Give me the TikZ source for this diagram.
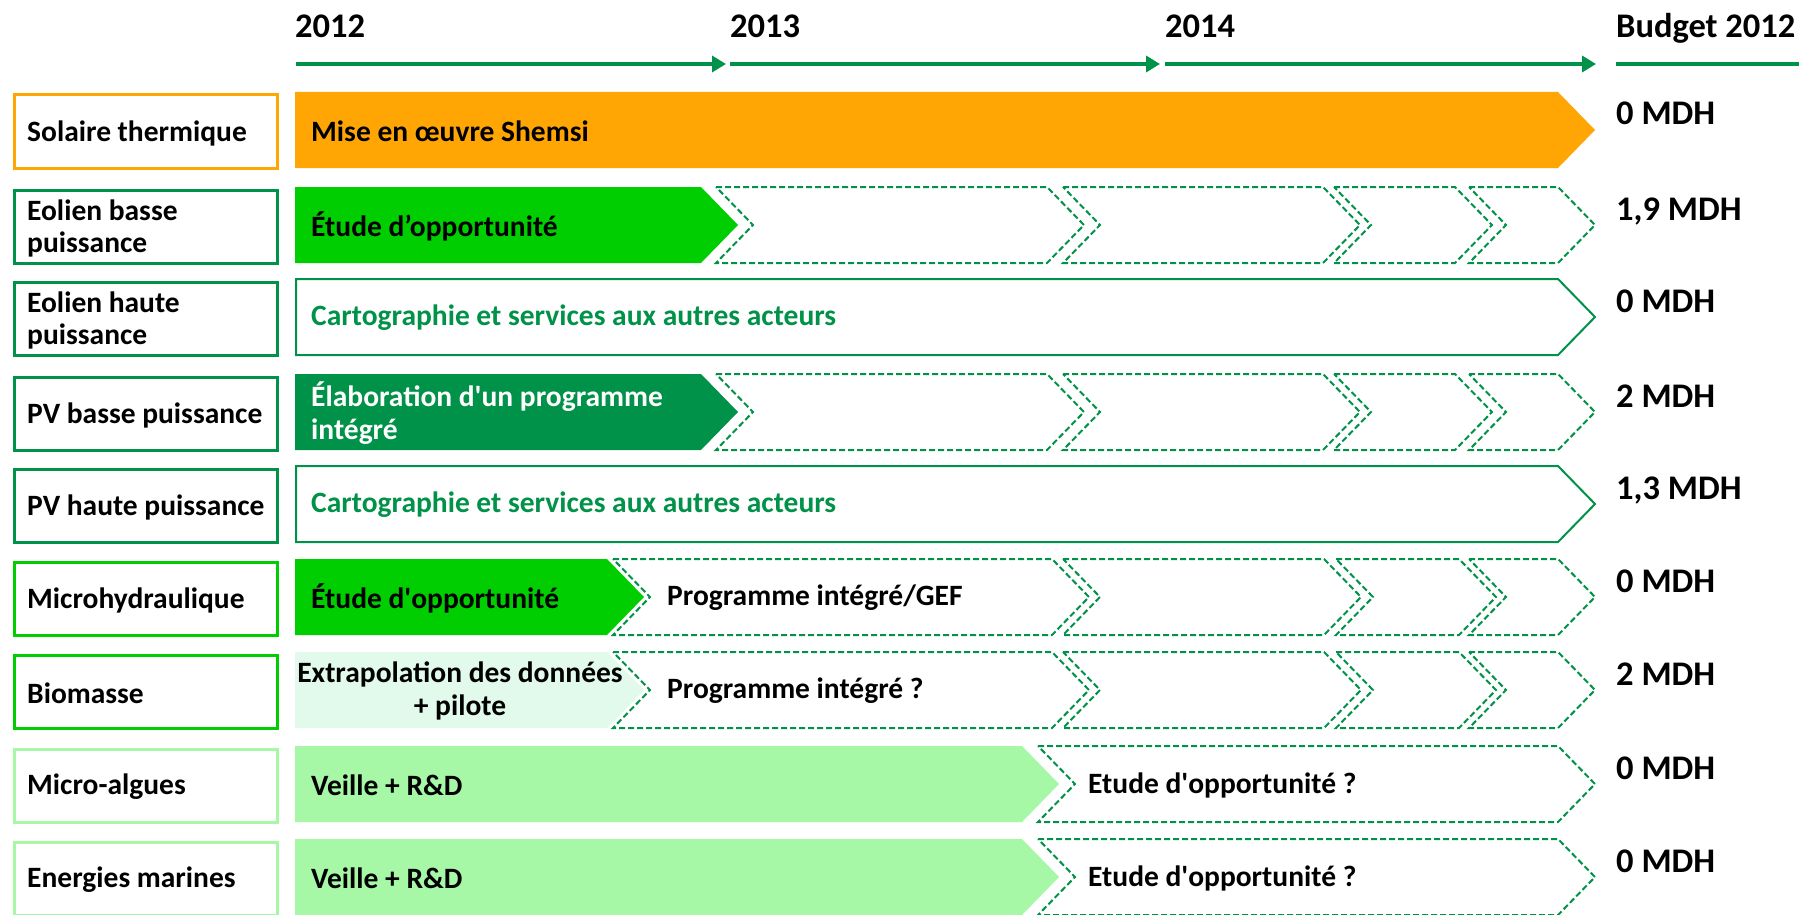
\documentclass[tikz,border=0pt]{standalone}
\usepackage{fontspec}
\setmainfont{Carlito}
\usetikzlibrary{arrows.meta}
\definecolor{dkgreen}{RGB}{0,146,72}
\definecolor{brgreen}{RGB}{0,206,0}
\definecolor{ltgreen}{RGB}{166,247,166}
\definecolor{mint}{RGB}{226,250,236}
\definecolor{orng}{RGB}{255,166,5}
\newcommand\gbar[4]{\path[#1] (#2,#4) -- (#3,#4) -- ({#3+37},{#4+38}) -- (#3,{#4+76}) -- (#2,{#4+76}) -- cycle;}
\newcommand\gnotch[4]{\path[#1] (#2,#4) -- (#3,#4) -- ({#3+37},{#4+38}) -- (#3,{#4+76}) -- (#2,{#4+76}) -- ({#2+37},{#4+38}) -- cycle;}
\tikzset{
  rowbox/.style={draw, line width=3pt, minimum width=263pt, minimum height=73pt, inner sep=0pt, anchor=north west},
  labtxt/.style={anchor=west, inner sep=0pt, font=\fontsize{29.5}{32}\selectfont\bfseries, align=flush left},
  bartxt/.style={anchor=west, inner sep=0pt, font=\fontsize{29.5}{33}\selectfont\bfseries, align=flush left},
  yeartxt/.style={anchor=base west, inner sep=0pt, font=\fontsize{34.5}{37}\selectfont\bfseries},
  tl/.style={line width=4pt, draw=dkgreen, -{Triangle[length=14pt,width=16pt]}},
  dchev/.style={draw=dkgreen, line width=2pt, dash pattern=on 6pt off 3pt, line join=miter},
  obar/.style={draw=dkgreen, line width=2pt, fill=white},
}
\begin{document}
\begin{tikzpicture}[x=1pt,y=-1pt]
\useasboundingbox (0,0) rectangle (1799,915);
\fill[white] (0,0) rectangle (1799,915);
% timeline
\node[yeartxt] (y1) at (295,38) {2012};
\node[yeartxt] (y2) at (730,38) {2013};
\node[yeartxt] (y3) at (1165,38) {2014};
\node[yeartxt] (y4) at (1616,38) {Budget 2012};
\coordinate (a0) at (296,64); \coordinate (a1) at (726,64);
\coordinate (a2) at (730,64); \coordinate (a3) at (1160,64);
\coordinate (a4) at (1165,64); \coordinate (a5) at (1596,64);
\coordinate (a6) at (1616,64); \coordinate (a7) at (1799,64);
\draw[tl] (a0) -- (a1);
\draw[tl] (a2) -- (a3);
\draw[tl] (a4) -- (a5);
\draw[line width=4pt, draw=dkgreen] (a6) -- (a7);
% row labels
\node[rowbox, draw=orng] (l1) at (13,93.5) {};
\node[rowbox, draw=dkgreen] (l2) at (13,188.5) {};
\node[rowbox, draw=dkgreen] (l3) at (13,280.5) {};
\node[rowbox, draw=dkgreen] (l4) at (13,375.5) {};
\node[rowbox, draw=dkgreen] (l5) at (13,467.5) {};
\node[rowbox, draw=brgreen] (l6) at (13,560.5) {};
\node[rowbox, draw=brgreen] (l7) at (13,653.5) {};
\node[rowbox, draw=ltgreen] (l8) at (13,747.5) {};
\node[rowbox, draw=ltgreen] (l9) at (13,840.5) {};
\node[labtxt] (t1) at (27,133) {Solaire thermique};
\node[labtxt] (t2) at (27,228) {Eolien basse\\puissance};
\node[labtxt] (t3) at (27,320) {Eolien haute\\puissance};
\node[labtxt] (t4) at (27,415) {PV basse puissance};
\node[labtxt] (t5) at (27,507) {PV haute puissance};
\node[labtxt] (t6) at (27,600) {Microhydraulique};
\node[labtxt] (t7) at (27,693) {Biomasse};
\node[labtxt] (t8) at (27,787) {Micro-algues};
\node[labtxt] (t9) at (27,880) {Energies marines};
% row 1
\gbar{fill=orng}{295}{1558}{92}
\node[bartxt] (e1) at (311,131) {Mise en œuvre Shemsi};
% row 2
\foreach \a/\b in {716/1047,1063/1323,1334/1455,1469/1558} {\gnotch{dchev}{\a}{\b}{187}}
\gbar{fill=brgreen}{295}{701}{187}
\node[bartxt] (e2) at (311,226) {Étude d’opportunité};
% row 3
\gbar{obar}{296}{1558}{279}
\node[bartxt, text=dkgreen] (e3) at (311,318) {Cartographie et services aux autres acteurs};
% row 4
\foreach \a/\b in {716/1047,1063/1323,1334/1455,1469/1558} {\gnotch{dchev}{\a}{\b}{374}}
\gbar{fill=dkgreen}{295}{701}{374}
\node[bartxt, text=white] (e4) at (311,413) {Élaboration d\textquotesingle un programme\\intégré};
% row 5
\gbar{obar}{296}{1558}{466}
\node[bartxt, text=dkgreen] (e5) at (311,505) {Cartographie et services aux autres acteurs};
% row 6
\foreach \a/\b in {613/1052,1063/1324,1336/1459,1469/1558} {\gnotch{dchev}{\a}{\b}{559}}
\gbar{fill=brgreen}{295}{607}{559}
\node[bartxt] (e6) at (311,598) {Étude d\textquotesingle opportunité};
\node[bartxt] (f6) at (667,598) {Programme intégré/GEF};
% row 7
\foreach \a/\b in {613/1052,1063/1324,1336/1459,1469/1558} {\gnotch{dchev}{\a}{\b}{652}}
\gbar{fill=mint}{295}{607}{652}
\node[bartxt, anchor=center, align=center] (e7) at (460,691) {Extrapolation des données\\+ pilote};
\node[bartxt] (f7) at (667,691) {Programme intégré ?};
% row 8
\gnotch{dchev}{1038}{1558}{746}
\gbar{fill=ltgreen}{295}{1022}{746}
\node[bartxt] (e8) at (311,785) {Veille + R\&D};
\node[bartxt] (f8) at (1088,785) {Etude d\textquotesingle opportunité ?};
% row 9
\gnotch{dchev}{1038}{1558}{839}
\gbar{fill=ltgreen}{295}{1022}{839}
\node[bartxt] (e9) at (311,878) {Veille + R\&D};
\node[bartxt] (f9) at (1088,878) {Etude d\textquotesingle opportunité ?};
% budgets
\node[yeartxt] (b1) at (1616,125) {0 MDH};
\node[yeartxt] (b2) at (1616,220) {1,9 MDH};
\node[yeartxt] (b3) at (1616,312) {0 MDH};
\node[yeartxt] (b4) at (1616,407) {2 MDH};
\node[yeartxt] (b5) at (1616,499) {1,3 MDH};
\node[yeartxt] (b6) at (1616,592) {0 MDH};
\node[yeartxt] (b7) at (1616,685) {2 MDH};
\node[yeartxt] (b8) at (1616,779) {0 MDH};
\node[yeartxt] (b9) at (1616,872) {0 MDH};
\end{tikzpicture}
\end{document}
